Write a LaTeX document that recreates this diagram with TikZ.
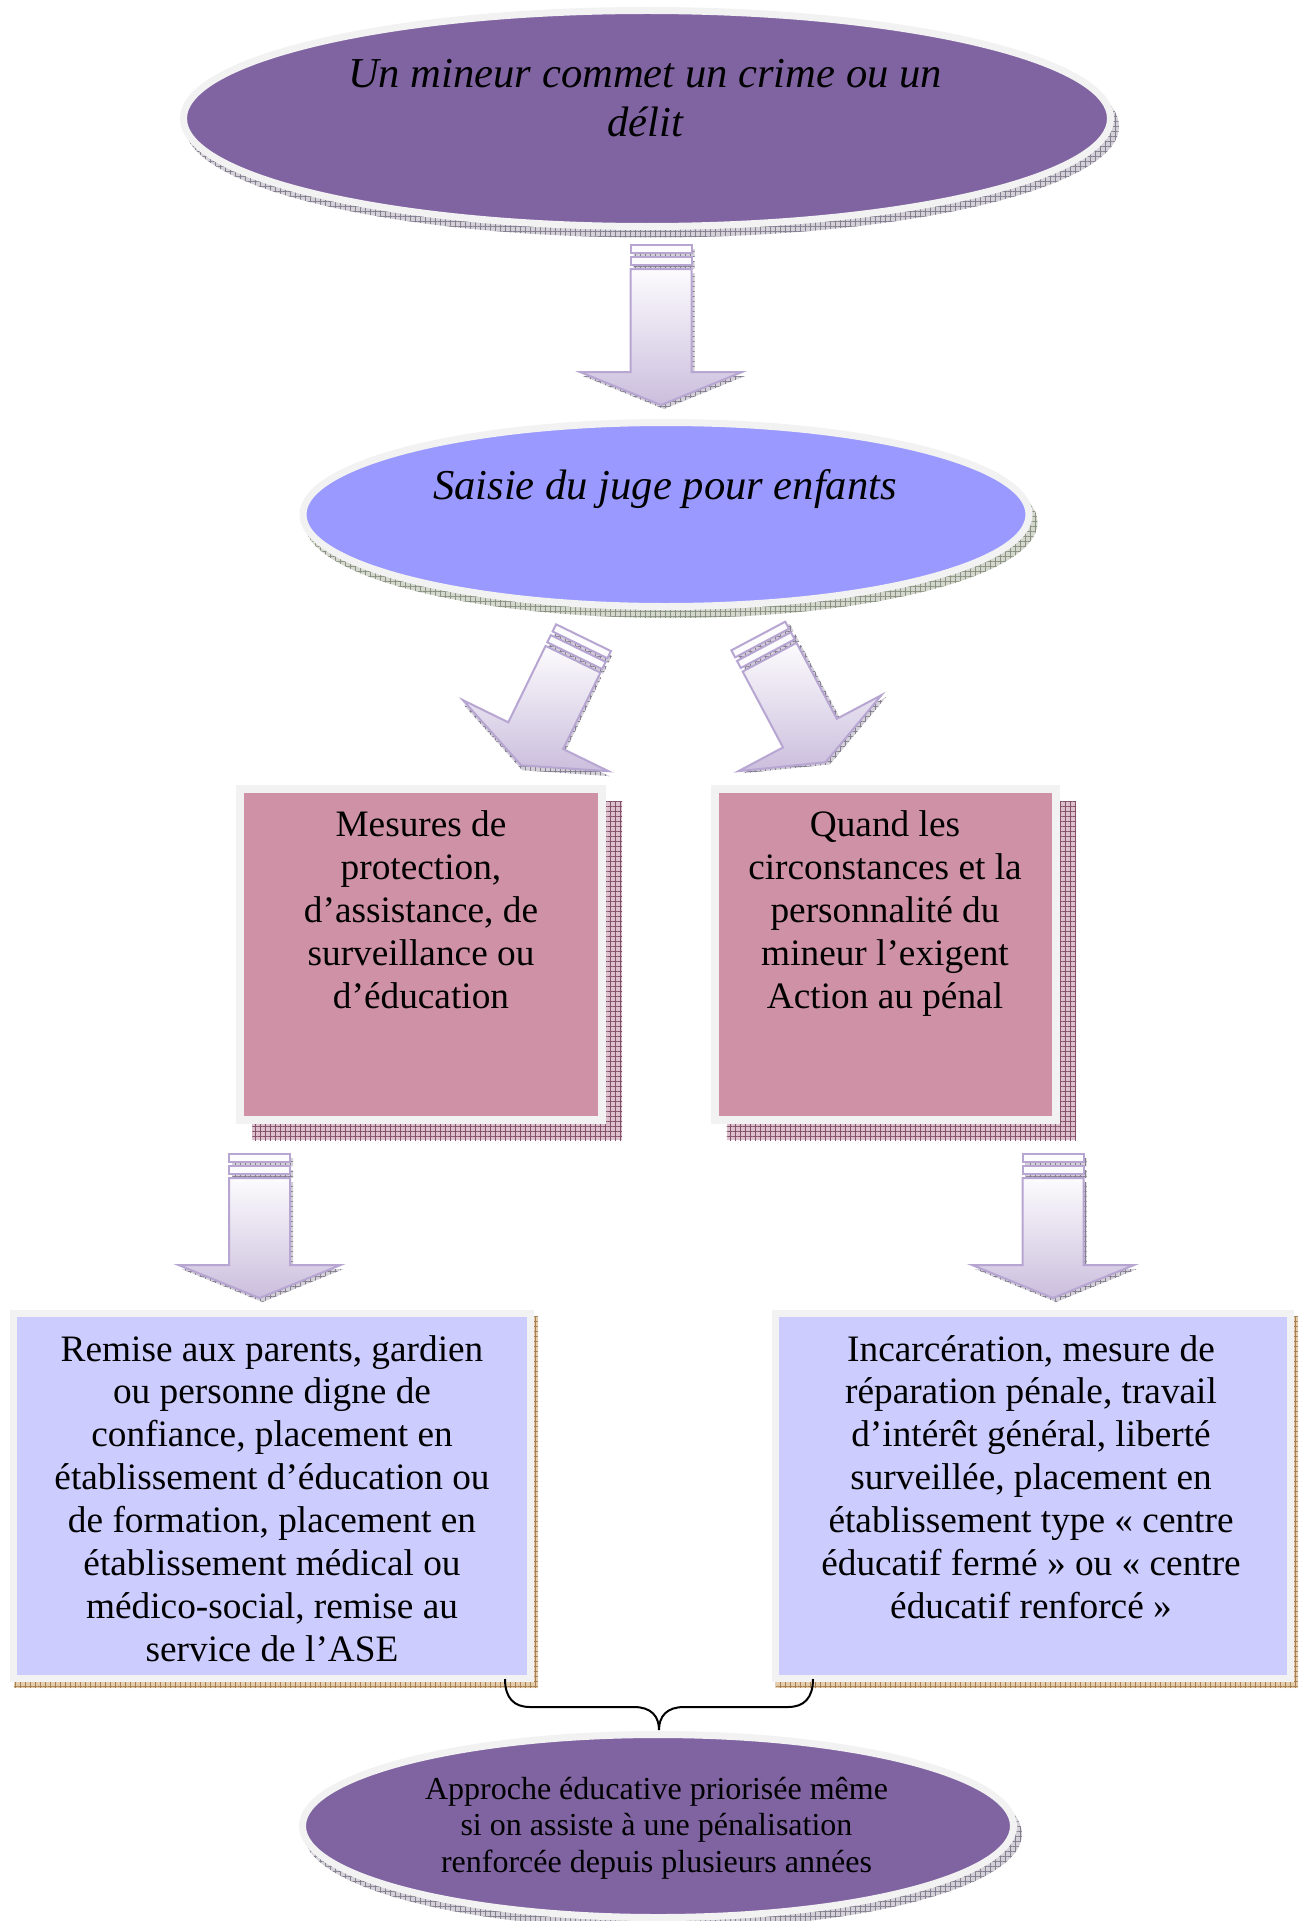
\documentclass[tikz,border=0pt]{standalone}
\usepackage{fontspec}
\setmainfont{Liberation Serif}
\usetikzlibrary{shapes.geometric,patterns.meta}
\definecolor{purp}{HTML}{8064A2}
\definecolor{peri}{HTML}{9999FF}
\definecolor{pinkb}{HTML}{CF91A6}
\definecolor{lblue}{HTML}{CCCCFF}
\definecolor{rim}{HTML}{F2F2F2}
\definecolor{arrtop}{HTML}{FCFBFD}
\definecolor{arrbot}{HTML}{CBBEDD}
\definecolor{arrline}{HTML}{B7A6D2}
\definecolor{shgrayb}{HTML}{D4D0D8}
\definecolor{shgrayl}{HTML}{858090}
\definecolor{shgreenb}{HTML}{D3D7CD}
\definecolor{shgreenl}{HTML}{8A9282}
\definecolor{shpinkb}{HTML}{DCC0CC}
\definecolor{shpinkl}{HTML}{84506A}
\definecolor{shtanb}{HTML}{E4CDAA}
\definecolor{shtanl}{HTML}{A87E55}
\tikzset{
  hatchshadow/.style 2 args={fill=#1, postaction={pattern={Hatch[angle=0,distance=5pt,line width=0.7pt]}, pattern color=#2}},
  ell/.style={ellipse, draw=rim, line width=7pt, inner sep=0pt},
  pinkbox/.style={rectangle, draw=rim, fill=pinkb, line width=8pt, inner sep=0pt},
  bluebox/.style={rectangle, draw=rim, fill=lblue, line width=7pt, inner sep=0pt},
  bigital/.style={align=center, inner sep=0pt, anchor=base, font=\fontsize{42.6}{49}\selectfont\itshape},
  boxtxt/.style={align=center, inner sep=0pt, anchor=base, font=\fontsize{37.3}{42.9}\selectfont},
  smalltxt/.style={align=center, inner sep=0pt, anchor=base, font=\fontsize{32}{36.7}\selectfont},
  arrstripe/.style={draw=arrline, fill=arrtop, line width=2pt, line join=miter},
  arrbody/.style={draw=arrline, top color=arrtop, bottom color=arrbot, line width=2pt, line join=miter},
  bracestyle/.style={draw=black, line width=2pt}
}
\newcommand\blockarr[4]{%
  \begin{scope}[shift={(#1,#2)},rotate=#3]
    \pgfmathsetmacro\hb{#4-33}
    \begin{scope}[shift={(3,4)}]
      \fill[hatchshadow={shgrayb}{shgrayl}] (-30.5,0) -- (30.5,0) -- (30.5,8) -- (-30.5,8) -- cycle
        (-30.5,12) -- (30.5,12) -- (30.5,20) -- (-30.5,20) -- cycle
        (-30.5,24) -- (30.5,24) -- (30.5,\hb) -- (81,\hb) -- (0,#4) -- (-81,\hb) -- (-30.5,\hb) -- cycle;
    \end{scope}
    \draw[arrstripe] (-30.5,0) -- (30.5,0) -- (30.5,8) -- (-30.5,8) -- cycle;
    \draw[arrstripe] (-30.5,12) -- (30.5,12) -- (30.5,20) -- (-30.5,20) -- cycle;
    \draw[arrbody] (-30.5,24) -- (30.5,24) -- (30.5,\hb) -- (81,\hb) -- (0,#4) -- (-81,\hb) -- (-30.5,\hb) -- cycle;
  \end{scope}}
\begin{document}
\begin{tikzpicture}[x=1pt,y=-1pt]
\useasboundingbox (0,0) rectangle (1303,1921);
\fill[white] (0,0) rectangle (1303,1921);

% ---- top ellipse ----
\fill[hatchshadow={shgrayb}{shgrayl}] (652,126.5) ellipse [x radius=467pt, y radius=111pt];
\node[ell, fill=purp, minimum width=927pt, minimum height=216pt] (e1) at (647,118.5) {};
\node[bigital] (t1) at (645,137) {Un mineur commet un crime ou un\\délit};

% ---- arrow 1 ----
\blockarr{661}{245}{0}{160}

% ---- second ellipse ----
\fill[hatchshadow={shgreenb}{shgreenl}] (671,522.5) ellipse [x radius=366.5pt, y radius=95.5pt];
\node[ell, fill=peri, minimum width=726pt, minimum height=184pt] (e2) at (666,514.5) {};
\node[bigital] (t2) at (665,499) {Saisie du juge pour enfants};

% ---- diagonal arrows ----
\blockarr{583.5}{637.7}{-26}{142}
\blockarr{758.3}{636}{28}{143}

% ---- pink boxes ----
\fill[hatchshadow={shpinkb}{shpinkl}] (252,801) rectangle (622,1140);
\node[pinkbox, minimum width=362pt, minimum height=331pt] (p1) at (421,954.5) {};
\node[boxtxt] (p1t) at (421,1008.1) {Mesures de\\protection,\\d’assistance, de\\surveillance ou\\d’éducation};

\fill[hatchshadow={shpinkb}{shpinkl}] (726.7,801) rectangle (1076,1140);
\node[pinkbox, minimum width=341.3pt, minimum height=331pt] (p2) at (885.4,954.5) {};
\node[boxtxt] (p2t) at (885,1008.1) {Quand les\\circonstances et la\\personnalité du\\mineur l’exigent\\Action au pénal};

% ---- vertical arrows ----
\blockarr{259.5}{1154}{0}{144}
\blockarr{1053}{1154}{0}{144}

% ---- blue boxes ----
\fill[hatchshadow={shtanb}{shtanl}] (14,1316) rectangle (538,1688);
\node[bluebox, minimum width=517pt, minimum height=365pt] (b1) at (272,1496) {};
\node[boxtxt] (b1t) at (272,1661.3) {Remise aux parents, gardien\\ou personne digne de\\confiance, placement en\\établissement d’éducation ou\\de formation, placement en\\établissement médical ou\\médico-social, remise au\\service de l’ASE};

\fill[hatchshadow={shtanb}{shtanl}] (775.5,1316) rectangle (1298,1688);
\node[bluebox, minimum width=515.5pt, minimum height=365pt] (b2) at (1032.75,1496) {};
\node[boxtxt] (b2t) at (1031,1618.4) {Incarcération, mesure de\\réparation pénale, travail\\d’intérêt général, liberté\\surveillée, placement en\\établissement type « centre\\éducatif fermé » ou « centre\\éducatif renforcé »};

% ---- bottom ellipse ----
\fill[hatchshadow={shgrayb}{shgrayl}] (663,1834) ellipse [x radius=359pt, y radius=95pt];
\node[ell, fill=purp, minimum width=711pt, minimum height=183pt] (e3) at (658,1826) {};
\node[smalltxt] (e3t) at (656.5,1872.4) {Approche éducative priorisée même\\si on assiste à une pénalisation\\renforcée depuis plusieurs années};

% ---- brace ----
\coordinate (brL) at (505,1679);
\coordinate (brR) at (813,1679);
\coordinate (brT) at (659,1730);
\draw[bracestyle] (brL) .. controls (505,1698) and (514,1707) .. (530,1707) -- (634,1707)
  .. controls (651,1707) and (659,1716) .. (brT)
  .. controls (659,1716) and (667,1707) .. (684,1707) -- (788,1707)
  .. controls (804,1707) and (813,1698) .. (brR);
\end{tikzpicture}
\end{document}
